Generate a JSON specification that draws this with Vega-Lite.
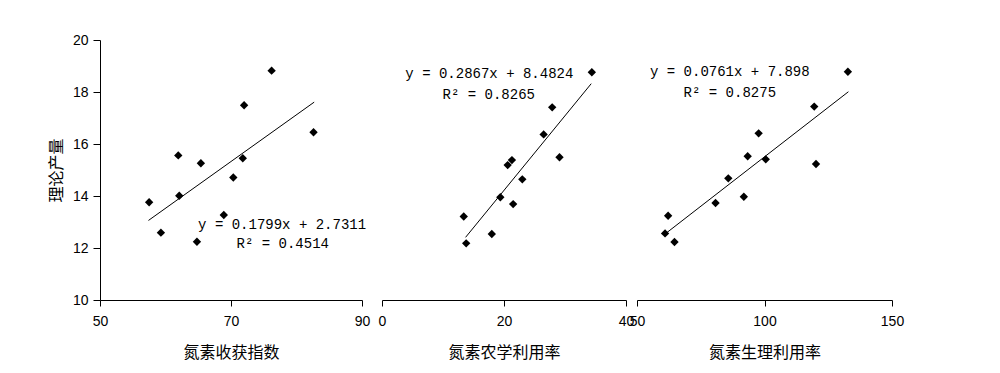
{
  "$schema": "https://vega.github.io/schema/vega-lite/v6.json",
  "padding": {"left": 48, "top": 33, "right": 5, "bottom": 5},
  "background": "white",
  "config": {
    "view": {"stroke": null},
    "axis": {"grid": false, "labelFlush": false, "domainColor": "black", "tickColor": "black", "labelColor": "black", "titleColor": "black", "labelFont": "Liberation Sans", "labelFontSize": 14, "titleFont": "Noto Sans CJK SC", "titleFontSize": 16, "titleFontWeight": "normal", "tickSize": 6}
  },
  "datasets": {
    "p1": [
      {"x": 57.5, "y": 13.76}, {"x": 59.3, "y": 12.59}, {"x": 61.95, "y": 15.56}, {"x": 62.1, "y": 14.01},
      {"x": 65.4, "y": 15.26}, {"x": 64.8, "y": 12.24}, {"x": 68.9, "y": 13.27}, {"x": 70.35, "y": 14.71},
      {"x": 71.8, "y": 15.45}, {"x": 72.0, "y": 17.49}, {"x": 76.2, "y": 18.82}, {"x": 82.6, "y": 16.45}
    ],
    "l1": [{"x": 57.4, "y": 13.06}, {"x": 82.7, "y": 17.61}],
    "t1": [{"x": 77.8, "y": 12.88, "t": "y = 0.1799x + 2.7311"}, {"x": 77.9, "y": 12.15, "t": "R² = 0.4514"}],
    "p2": [
      {"x": 34.4, "y": 18.76}, {"x": 27.9, "y": 17.41}, {"x": 26.5, "y": 16.37}, {"x": 29.1, "y": 15.49},
      {"x": 20.6, "y": 15.19}, {"x": 21.3, "y": 15.38}, {"x": 23.0, "y": 14.64}, {"x": 19.4, "y": 13.95},
      {"x": 21.5, "y": 13.69}, {"x": 13.4, "y": 13.21}, {"x": 18.0, "y": 12.54}, {"x": 13.8, "y": 12.18}
    ],
    "l2": [{"x": 13.7, "y": 12.41}, {"x": 34.3, "y": 18.32}],
    "t2": [{"x": 17.6, "y": 18.69, "t": "y = 0.2867x + 8.4824"}, {"x": 17.5, "y": 17.88, "t": "R² = 0.8265"}],
    "p3": [
      {"x": 132.7, "y": 18.78}, {"x": 119.5, "y": 17.44}, {"x": 120.2, "y": 15.23}, {"x": 97.7, "y": 16.41},
      {"x": 93.4, "y": 15.53}, {"x": 100.5, "y": 15.41}, {"x": 85.8, "y": 14.68}, {"x": 91.9, "y": 13.97},
      {"x": 80.8, "y": 13.73}, {"x": 62.2, "y": 13.24}, {"x": 61.0, "y": 12.56}, {"x": 64.7, "y": 12.23}
    ],
    "l3": [{"x": 61.55, "y": 12.58}, {"x": 132.9, "y": 18.01}],
    "t3": [{"x": 86.4, "y": 18.77, "t": "y = 0.0761x + 7.898"}, {"x": 86.4, "y": 17.96, "t": "R² = 0.8275"}]
  },
  "bounds": "flush",
  "spacing": 20,
  "hconcat": [
    {
      "width": 262,
      "height": 260,
      "layer": [
        {
          "data": {"name": "l1"},
          "mark": {"type": "line", "color": "black", "strokeWidth": 1},
          "encoding": {
            "x": {"field": "x", "type": "quantitative", "scale": {"domain": [50, 90], "nice": false, "zero": false},
              "axis": {"values": [50, 70, 90], "title": "氮素收获指数", "titlePadding": 16, "labelPadding": 8}},
            "y": {"field": "y", "type": "quantitative", "scale": {"domain": [10, 20], "nice": false, "zero": false},
              "axis": {"values": [10, 12, 14, 16, 18, 20], "title": "理论产量", "tickSize": 7, "labelPadding": 5, "titlePadding": 8}}
          }
        },
        {
          "data": {"name": "p1"},
          "mark": {"type": "point", "shape": "diamond", "filled": true, "color": "black", "size": 70, "opacity": 1},
          "encoding": {"x": {"field": "x", "type": "quantitative"}, "y": {"field": "y", "type": "quantitative"}}
        },
        {
          "data": {"name": "t1"},
          "mark": {"type": "text", "font": "Liberation Mono", "fontSize": 14, "color": "black"},
          "encoding": {"x": {"field": "x", "type": "quantitative"}, "y": {"field": "y", "type": "quantitative"}, "text": {"field": "t"}}
        }
      ]
    },
    {
      "bounds": "flush",
      "spacing": 11,
      "hconcat": [
        {
          "width": 244,
          "height": 260,
          "layer": [
            {
              "data": {"name": "l2"},
              "mark": {"type": "line", "color": "black", "strokeWidth": 1},
              "encoding": {
                "x": {"field": "x", "type": "quantitative", "scale": {"domain": [0, 40], "nice": false},
                  "axis": {"values": [0, 20, 40], "title": "氮素农学利用率", "titlePadding": 16, "labelPadding": 8}},
                "y": {"field": "y", "type": "quantitative", "scale": {"domain": [10, 20], "nice": false, "zero": false}, "axis": null}
              }
            },
            {
              "data": {"name": "p2"},
              "mark": {"type": "point", "shape": "diamond", "filled": true, "color": "black", "size": 70, "opacity": 1},
              "encoding": {"x": {"field": "x", "type": "quantitative"}, "y": {"field": "y", "type": "quantitative"}}
            },
            {
              "data": {"name": "t2"},
              "mark": {"type": "text", "font": "Liberation Mono", "fontSize": 14, "color": "black"},
              "encoding": {"x": {"field": "x", "type": "quantitative"}, "y": {"field": "y", "type": "quantitative"}, "text": {"field": "t"}}
            }
          ]
        },
        {
          "width": 255,
          "height": 260,
          "layer": [
            {
              "data": {"name": "l3"},
              "mark": {"type": "line", "color": "black", "strokeWidth": 1},
              "encoding": {
                "x": {"field": "x", "type": "quantitative", "scale": {"domain": [50, 150], "nice": false, "zero": false},
                  "axis": {"values": [50, 100, 150], "title": "氮素生理利用率", "titlePadding": 16, "labelPadding": 8}},
                "y": {"field": "y", "type": "quantitative", "scale": {"domain": [10, 20], "nice": false, "zero": false}, "axis": null}
              }
            },
            {
              "data": {"name": "p3"},
              "mark": {"type": "point", "shape": "diamond", "filled": true, "color": "black", "size": 70, "opacity": 1},
              "encoding": {"x": {"field": "x", "type": "quantitative"}, "y": {"field": "y", "type": "quantitative"}}
            },
            {
              "data": {"name": "t3"},
              "mark": {"type": "text", "font": "Liberation Mono", "fontSize": 14, "color": "black"},
              "encoding": {"x": {"field": "x", "type": "quantitative"}, "y": {"field": "y", "type": "quantitative"}, "text": {"field": "t"}}
            }
          ]
        }
      ]
    }
  ]
}
